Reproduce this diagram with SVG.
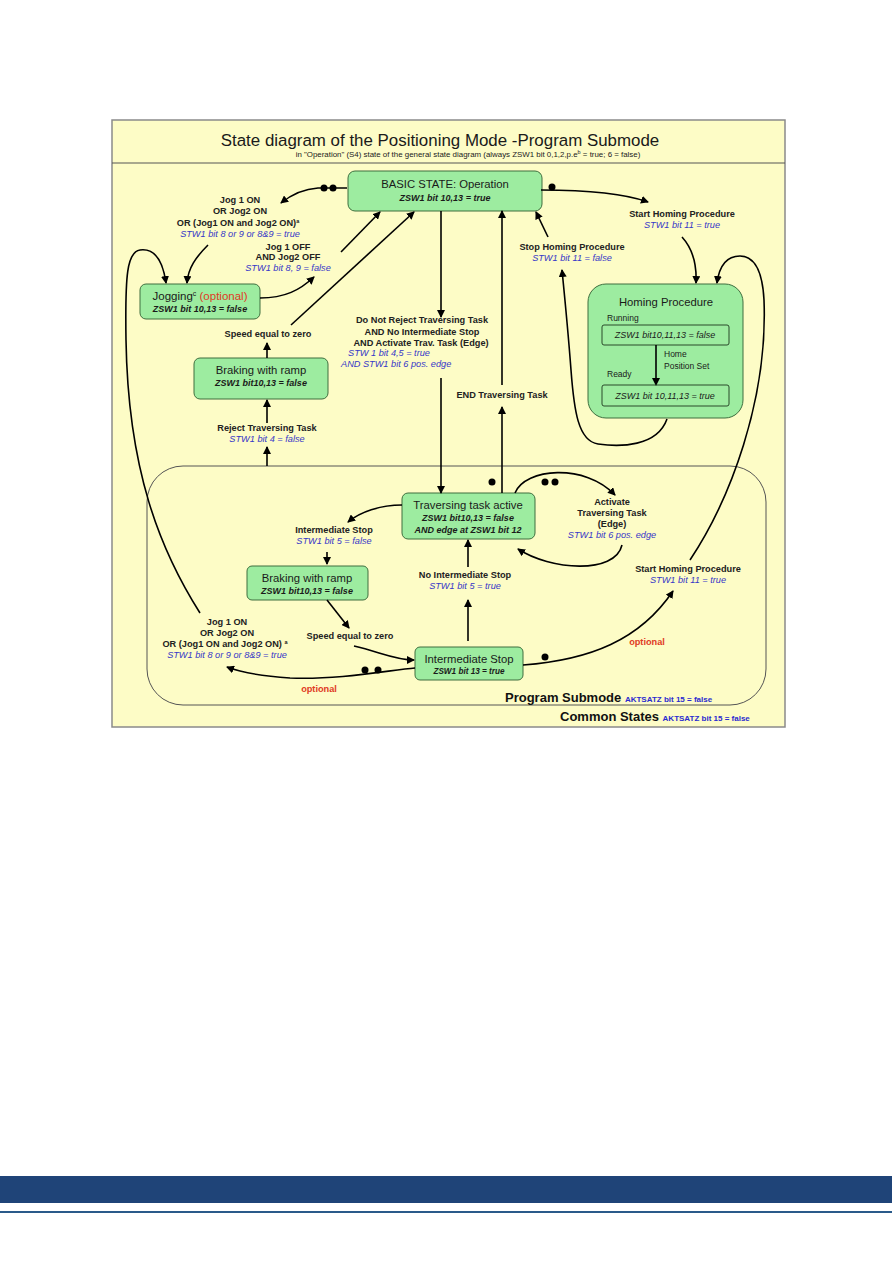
<svg xmlns="http://www.w3.org/2000/svg" width="892" height="1262" viewBox="0 0 892 1262">
<defs>
<marker id="ah" markerWidth="8" markerHeight="8" refX="7" refY="4" orient="auto" markerUnits="userSpaceOnUse"><path d="M0,0 L8,4 L0,8 z" fill="#000"/></marker>
<style>
text{font-family:"Liberation Sans",Arial,sans-serif}
.lbl{font-size:9.2px;font-weight:bold;fill:#222;text-anchor:middle}
.blue{font-size:9.2px;font-style:italic;fill:#3636c8;text-anchor:middle}
.node rect.b{fill:#9deca0;stroke:#3f6f3f;stroke-width:1}
.nt{font-size:11.3px;fill:#1a1a1a;text-anchor:middle}
.ns{font-size:9px;font-style:italic;font-weight:bold;fill:#1a1a1a;text-anchor:middle}
.nsn{font-size:9px;font-style:italic;fill:#1a1a1a;text-anchor:middle}
.st{text-anchor:start}
.conn path{fill:none;stroke:#000;stroke-width:1.6;marker-end:url(#ah)}
.dot{fill:#000}
.red{fill:#e03a24}
</style>
</defs>
<rect x="0" y="0" width="892" height="1262" fill="#fff"/>
<!-- frame -->
<rect x="112" y="120" width="673" height="607" fill="#fdfcc6" stroke="#8a8a8a" stroke-width="1.5"/>
<line x1="112" y1="163" x2="785" y2="163" stroke="#555" stroke-width="1"/>
<text x="440" y="146" font-size="16.9" text-anchor="middle" fill="#1a1a1a">State diagram of the Positioning Mode -Program Submode</text>
<text x="468" y="157" font-size="7.9" text-anchor="middle" fill="#222">in "Operation" (S4) state of the general state diagram (always ZSW1 bit 0,1,2,p.e<tspan font-size="5.5" dy="-3">b</tspan><tspan dy="3"> = true; 6 = false)</tspan></text>
<!-- program submode area -->
<rect x="147" y="466" width="619" height="239" rx="36" ry="36" fill="none" stroke="#555" stroke-width="1"/>
<text x="505" y="702" font-size="13" font-weight="bold" fill="#111">Program Submode <tspan font-size="8" fill="#2a2ad0">AKTSATZ bit 15 = false</tspan></text>
<text x="560" y="721" font-size="13" font-weight="bold" fill="#111">Common States <tspan font-size="8" fill="#2a2ad0">AKTSATZ bit 15 = false</tspan></text>

<!-- nodes -->
<g id="basic" class="node">
<rect class="b" x="348" y="171" width="194" height="40" rx="7"/>
<text class="nt" x="445" y="188">BASIC STATE: Operation</text>
<text class="ns" x="445" y="201">ZSW1 bit 10,13 = true</text>
</g>
<g id="jogging" class="node">
<rect class="b" x="140" y="284" width="120" height="35" rx="6"/>
<text x="200" y="300" font-size="11.5" text-anchor="middle" fill="#1a1a1a">Jogging<tspan font-size="7" dy="-4">c</tspan><tspan dy="4" fill="#e03a24"> (optional)</tspan></text>
<text class="ns" x="200" y="312">ZSW1 bit 10,13 = false</text>
</g>
<g id="braking1" class="node">
<rect class="b" x="194" y="358" width="134" height="41" rx="6"/>
<text class="nt" x="261" y="374">Braking with ramp</text>
<text class="ns" x="261" y="386">ZSW1 bit10,13 = false</text>
</g>
<g id="homing" class="node">
<rect class="b" x="588" y="284" width="155" height="134" rx="18"/>
<text class="nt" x="666" y="306">Homing Procedure</text>
<text x="607" y="321" font-size="8.5" fill="#1a1a1a">Running</text>
<rect x="602" y="325" width="127" height="20" rx="2" fill="none" stroke="#2a4a2a" stroke-width="1"/>
<text class="nsn" x="665" y="338">ZSW1 bit10,11,13 = false</text>
<line x1="656" y1="345" x2="656" y2="385" stroke="#000" stroke-width="1.6" marker-end="url(#ah)"/>
<text x="664" y="357" font-size="8.5" fill="#1a1a1a">Home</text>
<text x="664" y="369" font-size="8.5" fill="#1a1a1a">Position Set</text>
<text x="607" y="377" font-size="8.5" fill="#1a1a1a">Ready</text>
<rect x="602" y="385" width="127" height="21" rx="2" fill="none" stroke="#2a4a2a" stroke-width="1"/>
<text class="nsn" x="665" y="399">ZSW1 bit 10,11,13 = true</text>
</g>
<g id="traversing" class="node">
<rect class="b" x="402" y="493" width="133" height="46" rx="6"/>
<text class="nt" x="468" y="509">Traversing task active</text>
<text class="ns" x="468" y="521">ZSW1 bit10,13 = false</text>
<text class="ns" x="468" y="533">AND edge at ZSW1 bit 12</text>
</g>
<g id="braking2" class="node">
<rect class="b" x="247" y="566" width="121" height="34" rx="5"/>
<text class="nt" x="307" y="582">Braking with ramp</text>
<text class="ns" x="307" y="594">ZSW1 bit10,13 = false</text>
</g>
<g id="interstop" class="node">
<rect class="b" x="415" y="647" width="108" height="33" rx="5"/>
<text class="nt" x="469" y="663">Intermediate Stop</text>
<text class="ns" x="469" y="674" style="font-size:8.2px">ZSW1 bit 13 = true</text>
</g>

<!-- labels -->
<g id="labels">
<text class="lbl" x="240" y="203">Jog 1 ON</text>
<text class="lbl" x="240" y="214">OR Jog2 ON</text>
<text class="lbl" x="238" y="226">OR (Jog1 ON and Jog2 ON)<tspan font-size="5.5" dy="-3">a</tspan></text>
<text class="blue" x="240" y="237">STW1 bit 8 or 9 or 8&amp;9 = true</text>
<text class="lbl" x="288" y="250">Jog 1 OFF</text>
<text class="lbl" x="288" y="260">AND Jog2 OFF</text>
<text class="blue" x="288" y="271">STW1 bit 8, 9 = false</text>
<text class="lbl" x="268" y="337">Speed equal to zero</text>
<text class="lbl" x="267" y="431">Reject Traversing Task</text>
<text class="blue" x="267" y="442">STW1 bit 4 = false</text>
<text class="lbl" x="422" y="323">Do Not Reject Traversing Task</text>
<text class="lbl" x="422" y="335">AND No Intermediate Stop</text>
<text class="lbl" x="421" y="346">AND Activate Trav. Task (Edge)</text>
<text class="blue st" x="348" y="356">STW 1 bit 4,5 = true</text>
<text class="blue st" x="341" y="367">AND STW1 bit 6 pos. edge</text>
<text class="lbl" x="502" y="398">END Traversing Task</text>
<text class="lbl" x="572" y="250">Stop Homing Procedure</text>
<text class="blue" x="572" y="261">STW1 bit 11 = false</text>
<text class="lbl" x="682" y="217">Start Homing Procedure</text>
<text class="blue" x="682" y="228">STW1 bit 11 = true</text>
<text class="lbl" x="612" y="505">Activate</text>
<text class="lbl" x="612" y="516">Traversing Task</text>
<text class="lbl" x="612" y="527">(Edge)</text>
<text class="blue" x="612" y="538">STW1 bit 6 pos. edge</text>
<text class="lbl" x="334" y="533">Intermediate Stop</text>
<text class="blue" x="334" y="544">STW1 bit 5 = false</text>
<text class="lbl" x="465" y="578">No Intermediate Stop</text>
<text class="blue" x="465" y="589">STW1 bit 5 = true</text>
<text class="lbl" x="688" y="572">Start Homing Procedure</text>
<text class="blue" x="688" y="583">STW1 bit 11 = true</text>
<text class="lbl red" x="647" y="645">optional</text>
<text class="lbl" x="350" y="639">Speed equal to zero</text>
<text class="lbl" x="227" y="625">Jog 1 ON</text>
<text class="lbl" x="227" y="636">OR Jog2 ON</text>
<text class="lbl" x="225" y="647">OR (Jog1 ON and Jog2 ON) <tspan font-size="5.5" dy="-3">a</tspan></text>
<text class="blue" x="227" y="658">STW1 bit 8 or 9 or 8&amp;9 = true</text>
<text class="lbl red" x="319" y="692">optional</text>
</g>

<!-- connectors -->
<g id="connectors" class="conn">
<path d="M347 188 L318 188 C302 189 291 195 281 203"/>
<path d="M208 245 C196 257 188 268 187 283"/>
<path d="M200 613 C160 550 128 470 126 340 C125 275 127 252 140 250 C155 248 163 262 166 283"/>
<path d="M260 298 C285 298 300 290 314 277"/>
<path d="M341 252 L380 212"/>
<path d="M291 325 L414 212"/>
<path d="M267 358 L267 343"/>
<path d="M267 423 L267 400"/>
<path d="M267 466 L267 447"/>
<path d="M441 211 L441 317"/>
<path d="M441 378 L441 493"/>
<path d="M502 493 L502 407"/>
<path d="M502 385 L502 211"/>
<path d="M548 237 L536 212"/>
<path d="M667 419 C657 447 620 447 598 444 C578 441 574 410 571 370 C568 330 565 300 562 270"/>
<path d="M541 190 C580 190 620 192 648 202"/>
<path d="M682 237 C692 248 697 262 696 283"/>
<path d="M690 560 C730 500 768 400 764 300 C762 262 750 256 740 256 C725 256 719 268 717 283"/>
<path d="M523 665 C590 660 640 640 673 591"/>
<path d="M515 493 C525 468 585 463 615 495"/>
<path d="M622 545 C615 575 550 570 518 549"/>
<path d="M402 505 C380 505 360 512 348 522"/>
<path d="M327 552 L327 564"/>
<path d="M327 600 L349 628"/>
<path d="M354 646 C380 652 395 660 414 660"/>
<path d="M415 668 C390 670 340 680 290 678 C260 676 240 672 227 667"/>
<path d="M468 641 L468 600"/>
<path d="M468 567 L468 540"/>
</g>
<g id="dots">
<circle class="dot" cx="324" cy="188" r="3.5"/>
<circle class="dot" cx="333" cy="188" r="3.5"/>
<circle class="dot" cx="552" cy="187" r="3.5"/>
<circle class="dot" cx="492" cy="482" r="3.5"/>
<circle class="dot" cx="545" cy="482" r="3.5"/>
<circle class="dot" cx="555" cy="482" r="3.5"/>
<circle class="dot" cx="545" cy="657" r="3.5"/>
<circle class="dot" cx="365" cy="670" r="3.5"/>
<circle class="dot" cx="378" cy="670" r="3.5"/>
</g>
<!-- footer -->
<rect x="0" y="1176" width="892" height="27" fill="#1f4478"/>
<line x1="0" y1="1212" x2="892" y2="1212" stroke="#2a5a8a" stroke-width="2"/>
</svg>
